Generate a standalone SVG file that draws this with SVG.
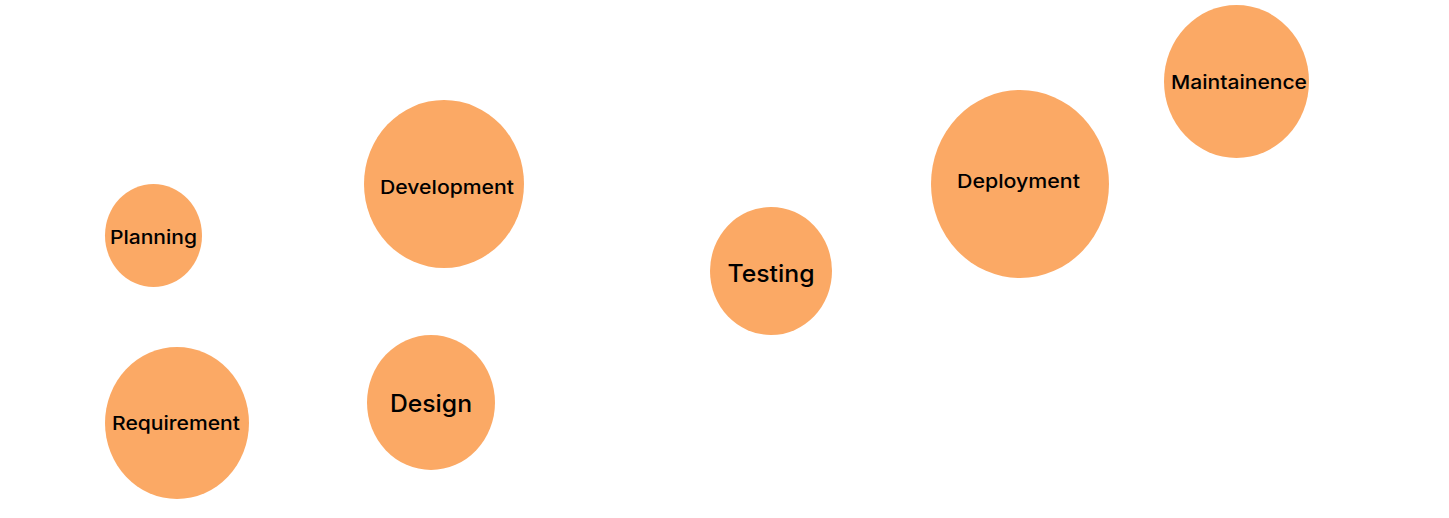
<svg xmlns="http://www.w3.org/2000/svg" width="1449" height="518" viewBox="0 0 1449 518">
<style>
.n{fill:#FBA965;}
.t{font-family:"Inter","Noto Sans",sans-serif;font-weight:500;fill:#000;text-anchor:middle;dominant-baseline:central;}
.s{font-size:19px;}
.l{font-size:24px;}
</style>
<rect width="1449" height="518" fill="#fff"/>
<g id="connectors"></g>
<g id="planning"><ellipse class="n" cx="153.5" cy="235.5" rx="48.5" ry="51.5"/><text class="t s" x="153.5" y="237" textLength="87" lengthAdjust="spacingAndGlyphs">Planning</text></g>
<g id="requirement"><ellipse class="n" cx="177" cy="423" rx="72" ry="76"/><text class="t s" x="176" y="423" textLength="128" lengthAdjust="spacingAndGlyphs">Requirement</text></g>
<g id="development"><ellipse class="n" cx="444" cy="184" rx="80" ry="84"/><text class="t s" x="447" y="187" textLength="134" lengthAdjust="spacingAndGlyphs">Development</text></g>
<g id="design"><ellipse class="n" cx="431" cy="402.5" rx="64" ry="67.5"/><text class="t l" x="431" y="403" textLength="82" lengthAdjust="spacingAndGlyphs">Design</text></g>
<g id="testing"><ellipse class="n" cx="771" cy="271" rx="61" ry="64"/><text class="t l" x="771" y="273" textLength="87" lengthAdjust="spacingAndGlyphs">Testing</text></g>
<g id="deployment"><ellipse class="n" cx="1020" cy="184" rx="89" ry="94"/><text class="t s" x="1018.5" y="181" textLength="123" lengthAdjust="spacingAndGlyphs">Deployment</text></g>
<g id="maintainence"><ellipse class="n" cx="1236.5" cy="81.5" rx="72.5" ry="76.5"/><text class="t s" x="1239" y="82" textLength="136" lengthAdjust="spacingAndGlyphs">Maintainence</text></g>
</svg>
